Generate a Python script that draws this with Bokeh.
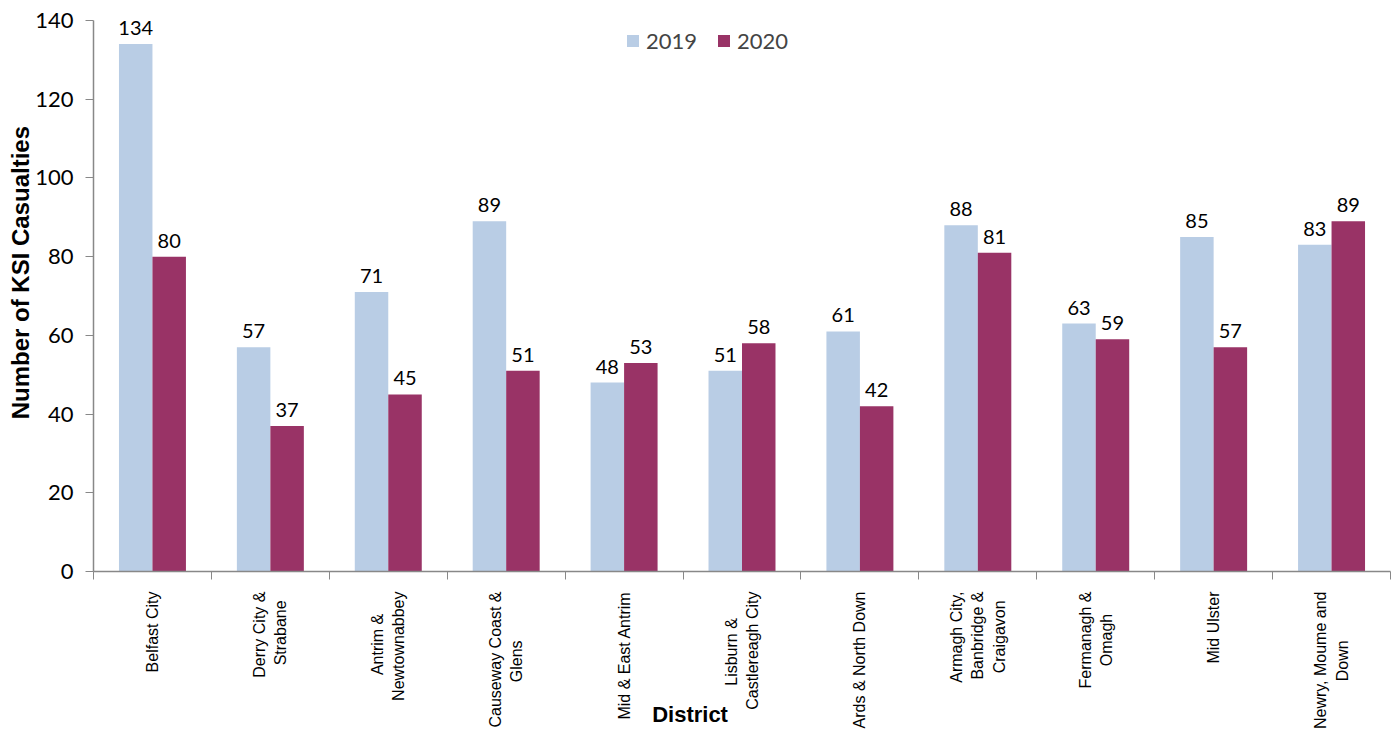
import math
import numpy as np
from bokeh.plotting import figure
from bokeh.models import (ColumnDataSource, Range1d, FixedTicker, Legend, LegendItem,
                          LabelSet)
from bokeh.core.properties import value
from bokeh.transform import dodge
from bokeh.embed import file_html
from bokeh.resources import INLINE

districts = ["Belfast City", "Derry City &\nStrabane", "Antrim &\nNewtownabbey",
             "Causeway Coast &\nGlens", "Mid & East Antrim", "Lisburn &\nCastlereagh City",
             "Ards & North Down", "Armagh City,\nBanbridge &\nCraigavon",
             "Fermanagh &\nOmagh", "Mid Ulster", "Newry, Moume and\nDown"]
ksi_2019 = [134, 57, 71, 89, 48, 51, 61, 88, 63, 85, 83]
ksi_2020 = [80, 37, 45, 51, 53, 58, 42, 81, 59, 57, 89]
y_ticks = [0, 20, 40, 60, 80, 100, 120, 140]

C2019 = "#B9CDE5"
C2020 = "#993366"
NB = "\u00a0"

# approximate Arial advance widths (per 1000 em) used to centre wrapped label lines
_W = {" ": 278, "&": 667, ",": 278, "A": 667, "B": 667, "C": 722, "D": 722, "E": 667,
      "F": 611, "G": 778, "L": 556, "M": 833, "N": 722, "O": 778, "S": 667, "U": 722,
      "W": 944, "a": 556, "b": 556, "c": 500, "d": 556, "e": 556, "f": 278, "g": 556,
      "h": 556, "i": 222, "k": 500, "l": 222, "m": 833, "n": 556, "o": 556, "p": 556,
      "r": 333, "s": 500, "t": 278, "u": 556, "v": 500, "w": 722, "y": 500}


def centre_lines(label):
    lines = label.split("\n")
    if len(lines) == 1:
        return label
    widths = [sum(_W.get(ch, 556) for ch in ln) for ln in lines]
    mw = max(widths)
    out = []
    for ln, w in zip(lines, widths):
        k = int(round((mw - w) / 2 / 278))
        out.append(ln + NB * k)
    return "\n".join(out)


n = len(districts)
centers = [i + 0.5 for i in range(n)]
src = ColumnDataSource(dict(x=centers, v19=ksi_2019, v20=ksi_2020,
                            t19=[str(v) for v in ksi_2019], t20=[str(v) for v in ksi_2020]))

p = figure(frame_width=1297, frame_height=551, output_backend="svg", toolbar_location=None,
           x_range=Range1d(0, n), y_range=Range1d(0, 140),
           min_border_left=93, min_border_top=20, min_border_right=4, min_border_bottom=0)
p.outline_line_color = None
p.xgrid.visible = False
p.ygrid.visible = False

bw = 0.284
r19 = p.vbar(x=dodge("x", -bw / 2, range=p.x_range), top="v19", width=bw, source=src,
             fill_color=C2019, line_color=None)
r20 = p.vbar(x=dodge("x", bw / 2, range=p.x_range), top="v20", width=bw, source=src,
             fill_color=C2020, line_color=None)

lbl_font = "Lato"
for col, txt, off in (("v19", "t19", -bw / 2), ("v20", "t20", bw / 2)):
    ls = LabelSet(x=dodge("x", off, range=p.x_range), y=col, text=txt, source=src,
                  text_align="center", text_baseline="bottom", y_offset=9,
                  text_font=value(lbl_font), text_font_size=value("20px"),
                  text_color=value("#000000"))
    p.add_layout(ls)

# x axis
xa = p.xaxis[0]
xa.ticker = FixedTicker(ticks=centers, minor_ticks=list(range(n + 1)))
xa.major_label_overrides = {c: centre_lines(d) for c, d in zip(centers, districts)}
xa.major_label_orientation = math.pi / 2
xa.major_tick_line_color = None
xa.major_tick_out = 0
xa.major_tick_in = 0
xa.minor_tick_line_color = "#888888"
xa.minor_tick_out = 8
xa.minor_tick_in = 0
xa.axis_line_color = "#888888"
xa.axis_line_width = 1.5
xa.major_label_text_font = "Liberation Sans"
xa.major_label_text_font_size = "16px"
xa.major_label_text_line_height = 1.25
xa.major_label_text_color = "#000000"
xa.major_label_standoff = 12
xa.axis_label = "District" + NB * 17
xa.axis_label_text_font = "Liberation Sans"
xa.axis_label_text_font_style = "bold"
xa.axis_label_text_font_size = "22px"
xa.axis_label_text_color = "#000000"
xa.axis_label_standoff = -30

# y axis
ya = p.yaxis[0]
ya.ticker = FixedTicker(ticks=y_ticks, minor_ticks=[])
ya.axis_line_color = "#888888"
ya.axis_line_width = 1.5
ya.major_tick_line_color = "#888888"
ya.major_tick_out = 8
ya.major_tick_in = 0
ya.minor_tick_line_color = None
ya.major_label_text_font = lbl_font
ya.major_label_text_font_size = "22px"
ya.major_label_text_color = "#000000"
ya.major_label_standoff = 12
ya.axis_label = NB * 7 + "Number of KSI Casualties"
ya.axis_label_text_font = "Liberation Sans"
ya.axis_label_text_font_style = "bold"
ya.axis_label_text_font_size = "24px"
ya.axis_label_text_color = "#000000"
ya.axis_label_standoff = -2

legend = Legend(items=[LegendItem(label="2019", renderers=[r19]),
                       LegendItem(label="2020", renderers=[r20])],
                orientation="horizontal", location=(532, 517),
                border_line_color=None, background_fill_alpha=0,
                label_text_font=lbl_font, label_text_font_size="22px",
                glyph_width=15, glyph_height=15, spacing=19, label_standoff=6,
                padding=4, margin=0)
p.add_layout(legend)

open("out.html", "w").write(file_html(p, INLINE))
